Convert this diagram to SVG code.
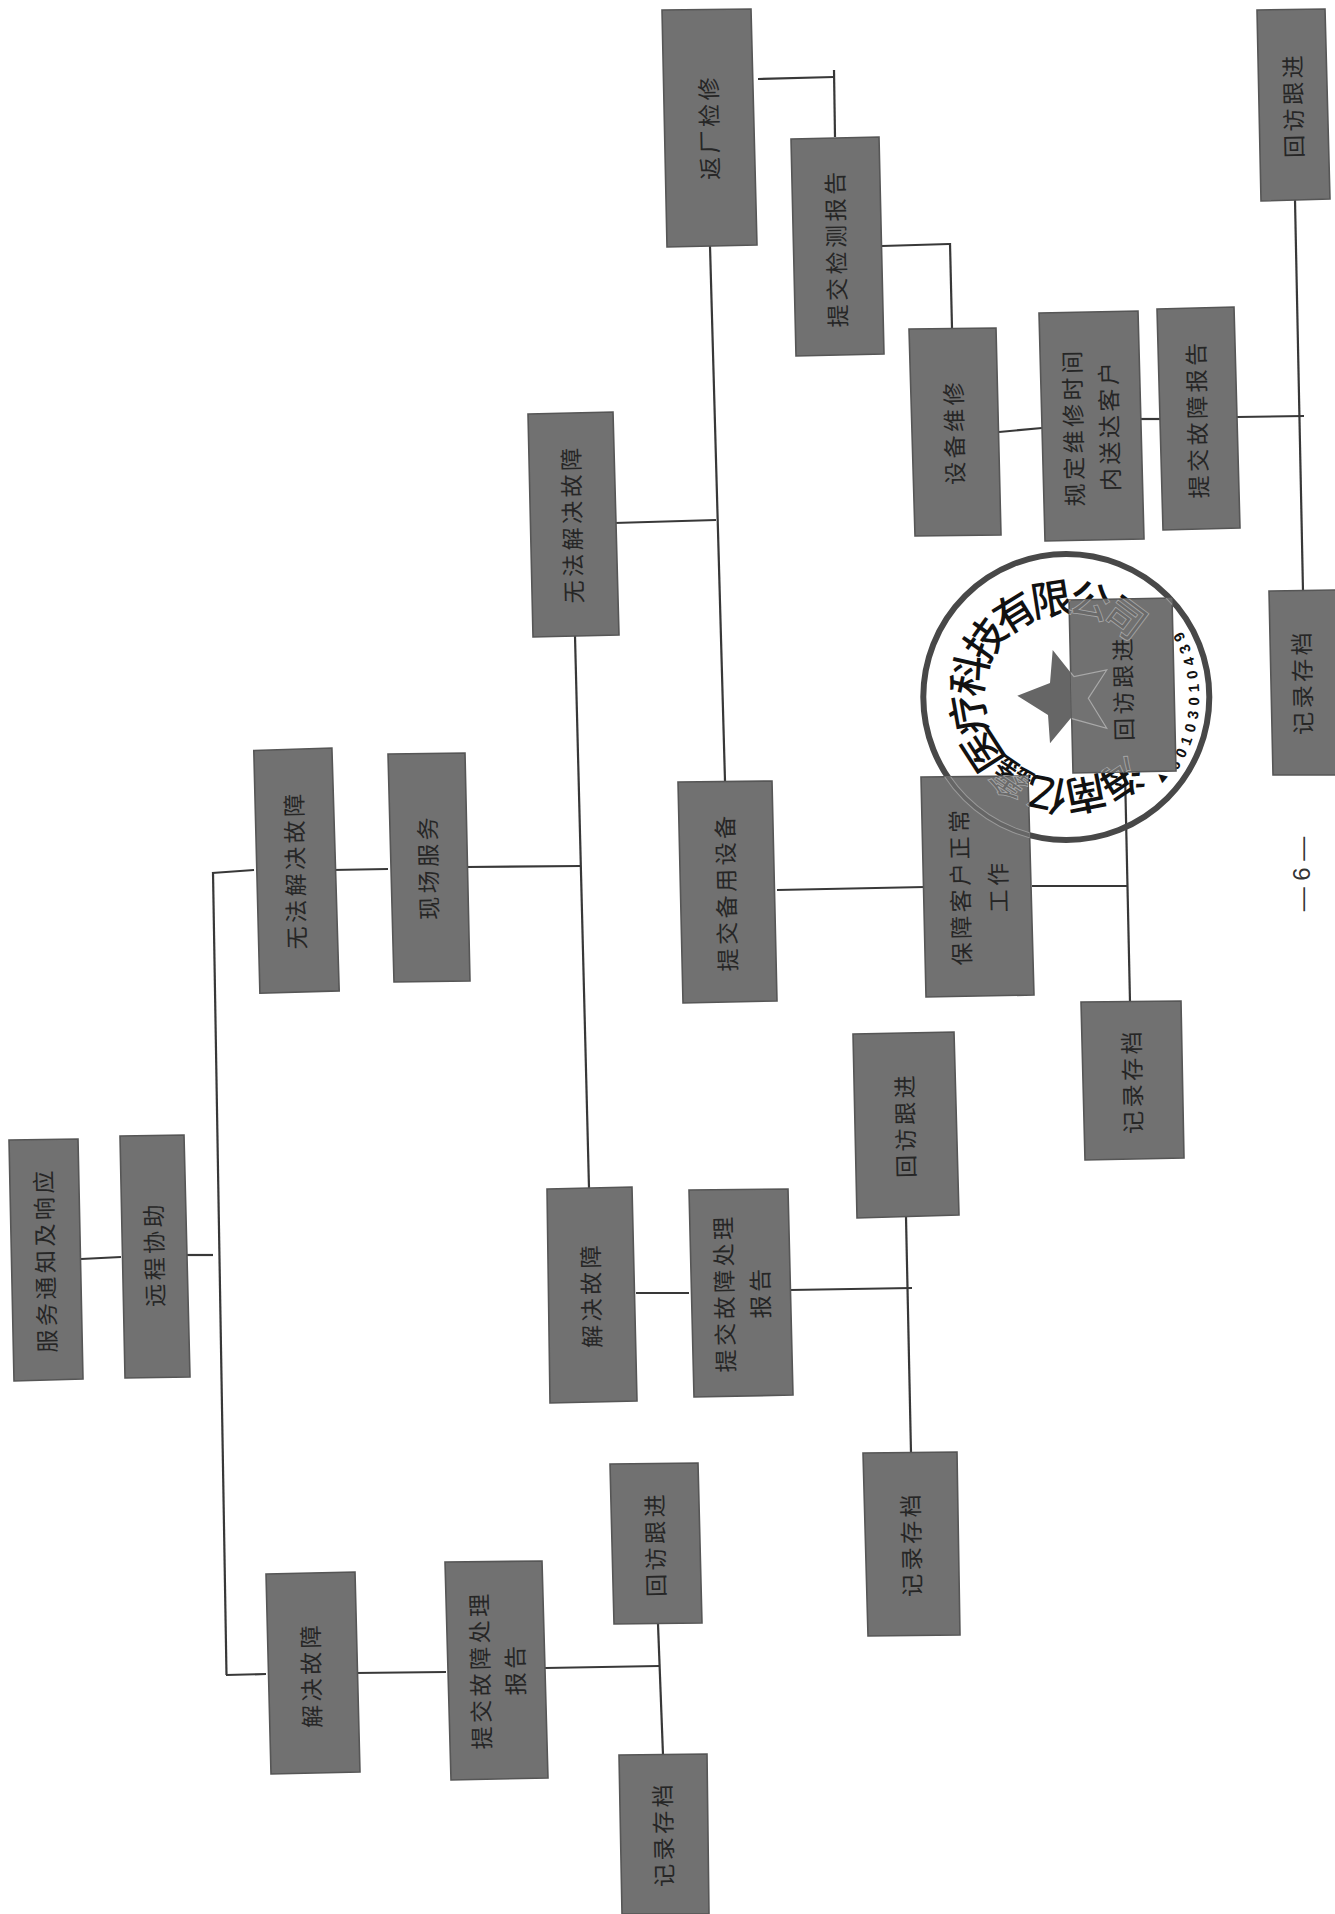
<svg xmlns="http://www.w3.org/2000/svg" xmlns:xlink="http://www.w3.org/1999/xlink" width="1335" height="1914" viewBox="0 0 1335 1914">
<style>
.b{fill:#717171;stroke:#565656;stroke-width:1.6}
.t{font-family:"Noto Sans CJK SC","Liberation Sans",sans-serif;font-size:23px;letter-spacing:3.5px;fill:#262626;text-anchor:middle}
.l{stroke:#383838;stroke-width:2.2;fill:none}
.c{font-family:"Noto Sans CJK SC",sans-serif;font-weight:500;font-size:41px;text-anchor:middle}
.d{font-family:"Liberation Sans",sans-serif;font-weight:700;font-size:15px;text-anchor:middle;fill:#111}
.p{font-family:"Liberation Sans",sans-serif;font-size:24px;fill:#333;text-anchor:middle}
</style>
<defs>
<g id="stampChars">
<text class="c" transform="translate(1066.3,697) rotate(146) translate(0,-84)">海</text>
<text class="c" transform="translate(1066.3,697) rotate(168.8) translate(0,-84)">南</text>
<text class="c" transform="translate(1066.3,697) rotate(191.6) translate(0,-84)">亿</text>
<text class="c" transform="translate(1066.3,697) rotate(214.4) translate(0,-84)">鑫</text>
<text class="c" transform="translate(1066.3,697) rotate(237.2) translate(0,-84)">医</text>
<text class="c" transform="translate(1066.3,697) rotate(260) translate(0,-84)">疗</text>
<text class="c" transform="translate(1066.3,697) rotate(282.8) translate(0,-84)">科</text>
<text class="c" transform="translate(1066.3,697) rotate(305.6) translate(0,-84)">技</text>
<text class="c" transform="translate(1066.3,697) rotate(328.4) translate(0,-84)">有</text>
<text class="c" transform="translate(1066.3,697) rotate(351.2) translate(0,-84)">限</text>
<text class="c" transform="translate(1066.3,697) rotate(14) translate(0,-84)">公</text>
<text class="c" transform="translate(1066.3,697) rotate(36.8) translate(0,-84)">司</text>
</g>
<polygon id="star" points="1052.7,650 1074,676.7 1106.7,670 1088.3,698.3 1106.7,728.3 1070.7,718.3 1050,743.3 1048,715 1017.3,695.7 1050,683"/>
<clipPath id="stampBoxes">
<polygon points="1069,600 1172,598 1176,771 1073,773"/>
<polygon points="921,777 1028,776 1034,995 926,997"/>
</clipPath>
</defs>
<rect width="1335" height="1914" fill="#ffffff"/>
<g id="connectors">
<path class="l" d="M81 1259L121 1257"/>
<path class="l" d="M187 1255L213 1255"/>
<path class="l" d="M213 872L226.500 1675"/>
<path class="l" d="M212 873L254 870"/>
<path class="l" d="M226 1675L266 1674"/>
<path class="l" d="M332 870L388 869"/>
<path class="l" d="M466 867L581 866"/>
<path class="l" d="M575 636L589 1188"/>
<path class="l" d="M614 523L716 520"/>
<path class="l" d="M710 246L725 781"/>
<path class="l" d="M777 890L925 887"/>
<path class="l" d="M1032 886L1127 886"/>
<path class="l" d="M1125 772L1130 1002"/>
<path class="l" d="M758 79L834 77"/>
<path class="l" d="M834 70L835 137"/>
<path class="l" d="M882 246L949 244"/>
<path class="l" d="M950 243L952 328"/>
<path class="l" d="M999 432L1042 428"/>
<path class="l" d="M1141 419L1160 419"/>
<path class="l" d="M1237 417L1304 416"/>
<path class="l" d="M1295 200L1303 591"/>
<path class="l" d="M636 1293L689 1293"/>
<path class="l" d="M790 1290L912 1288"/>
<path class="l" d="M906 1217L911 1453"/>
<path class="l" d="M355 1673L446 1672"/>
<path class="l" d="M545 1668L659 1666"/>
<path class="l" d="M658 1624L663 1755"/>
</g>
<g id="stamp">
<circle cx="1066.300" cy="697" r="143" fill="none" stroke="#484848" stroke-width="6"/>
<use href="#star" fill="#666666"/>
<use href="#stampChars" fill="#111111"/>
<g id="stampNumber">
<text class="d" transform="translate(1066.300,697) rotate(40) translate(124,0) rotate(-90)" dy="5">▲</text>
<text class="d" transform="translate(1066.300,697) rotate(32) translate(128,0) rotate(-90)" dy="5">6</text>
<text class="d" transform="translate(1066.300,697) rotate(26) translate(128,0) rotate(-90)" dy="5">0</text>
<text class="d" transform="translate(1066.300,697) rotate(20) translate(128,0) rotate(-90)" dy="5">1</text>
<text class="d" transform="translate(1066.300,697) rotate(14) translate(128,0) rotate(-90)" dy="5">0</text>
<text class="d" transform="translate(1066.300,697) rotate(8) translate(128,0) rotate(-90)" dy="5">3</text>
<text class="d" transform="translate(1066.300,697) rotate(2) translate(128,0) rotate(-90)" dy="5">0</text>
<text class="d" transform="translate(1066.300,697) rotate(-4) translate(128,0) rotate(-90)" dy="5">1</text>
<text class="d" transform="translate(1066.300,697) rotate(-10) translate(128,0) rotate(-90)" dy="5">0</text>
<text class="d" transform="translate(1066.300,697) rotate(-16) translate(128,0) rotate(-90)" dy="5">4</text>
<text class="d" transform="translate(1066.300,697) rotate(-22) translate(128,0) rotate(-90)" dy="5">3</text>
<text class="d" transform="translate(1066.300,697) rotate(-28) translate(128,0) rotate(-90)" dy="5">9</text>
</g>
</g>
<g id="n1"><polygon class="b" points="9,1140 78,1139 83,1379 14,1381"/><text class="t" transform="translate(46,1260) rotate(-91.200)" dy="8">服务通知及响应</text></g>
<g id="n2"><polygon class="b" points="120,1136 184,1135 190,1377 125,1378"/><text class="t" transform="translate(155,1254) rotate(-91.200)" dy="8">远程协助</text></g>
<g id="n3"><polygon class="b" points="253.800,750.500 331.900,748 339.200,990.900 259.900,993.300"/><text class="t" transform="translate(296,870) rotate(-91.200)" dy="8">无法解决故障</text></g>
<g id="n4"><polygon class="b" points="388,754 465,753 470,981 394,982"/><text class="t" transform="translate(429,867) rotate(-91.200)" dy="8">现场服务</text></g>
<g id="n5"><polygon class="b" points="266,1574 355,1572 360,1772 271,1774"/><text class="t" transform="translate(312,1675) rotate(-91.200)" dy="8">解决故障</text></g>
<g id="n6"><polygon class="b" points="445,1562 542,1561 548,1778 451,1780"/><text class="t" transform="translate(481,1670) rotate(-91.200)" dy="8">提交故障处理</text><text class="t" transform="translate(516,1669) rotate(-91.200)" dy="8">报告</text></g>
<g id="n7"><polygon class="b" points="610,1464 698,1463 702,1623 614,1624"/><text class="t" transform="translate(656,1544) rotate(-91.200)" dy="8">回访跟进</text></g>
<g id="n8"><polygon class="b" points="619,1755 707,1754 709,1914 622,1914"/><text class="t" transform="translate(664,1834) rotate(-91.200)" dy="8">记录存档</text></g>
<g id="n9"><polygon class="b" points="547,1189 632,1187 637,1401 550,1403"/><text class="t" transform="translate(592,1295) rotate(-91.200)" dy="8">解决故障</text></g>
<g id="n10"><polygon class="b" points="689,1190 788,1189 793,1395 694,1397"/><text class="t" transform="translate(725,1293) rotate(-91.200)" dy="8">提交故障处理</text><text class="t" transform="translate(761,1292) rotate(-91.200)" dy="8">报告</text></g>
<g id="n11"><polygon class="b" points="853,1034 954,1032 959,1215 857,1218"/><text class="t" transform="translate(906,1125) rotate(-91.200)" dy="8">回访跟进</text></g>
<g id="n12"><polygon class="b" points="863,1453 957,1452 960,1635 868,1636"/><text class="t" transform="translate(912,1544) rotate(-91.200)" dy="8">记录存档</text></g>
<g id="n13"><polygon class="b" points="528,414 613,412 619,635 533,637"/><text class="t" transform="translate(573,524) rotate(-91.200)" dy="8">无法解决故障</text></g>
<g id="n14"><polygon class="b" points="662,10 751,9 757,245 667,247"/><text class="t" transform="translate(710,127) rotate(-91.200)" dy="8">返厂检修</text></g>
<g id="n15"><polygon class="b" points="791,139 879,137 884,354 796,356"/><text class="t" transform="translate(837,248) rotate(-91.200)" dy="8">提交检测报告</text></g>
<g id="n16"><polygon class="b" points="909,329 996,328 1001,535 915,536"/><text class="t" transform="translate(955,432) rotate(-91.200)" dy="8">设备维修</text></g>
<g id="n17"><polygon class="b" points="1039,313 1138,311 1144,539 1045,541"/><text class="t" transform="translate(1074,427) rotate(-91.200)" dy="8">规定维修时间</text><text class="t" transform="translate(1110,425) rotate(-91.200)" dy="8">内送达客户</text></g>
<g id="n18"><polygon class="b" points="1157,309 1234,307 1240,528 1163,530"/><text class="t" transform="translate(1198,419) rotate(-91.200)" dy="8">提交故障报告</text></g>
<g id="n19"><polygon class="b" points="1257,10 1325,9 1330,199 1261,201"/><text class="t" transform="translate(1294,105) rotate(-91.200)" dy="8">回访跟进</text></g>
<g id="n20"><polygon class="b" points="1269,591 1336,590 1336,775 1273,775"/><text class="t" transform="translate(1303,682) rotate(-91.200)" dy="8">记录存档</text></g>
<g id="n21"><polygon class="b" points="678,782 772,781 777,1001 683,1003"/><text class="t" transform="translate(727,892) rotate(-91.200)" dy="8">提交备用设备</text></g>
<g id="n22"><polygon class="b" points="921,777 1028,776 1034,995 926,997"/><text class="t" transform="translate(961,886) rotate(-91.200)" dy="8">保障客户正常</text><text class="t" transform="translate(999,886) rotate(-91.200)" dy="8">工作</text></g>
<g id="n23"><polygon class="b" points="1081,1002 1181,1001 1184,1158 1085,1160"/><text class="t" transform="translate(1133,1081) rotate(-91.200)" dy="8">记录存档</text></g>
<g id="n24"><polygon class="b" points="1069,600 1172,598 1176,771 1073,773"/><text class="t" transform="translate(1124,688) rotate(-91.200)" dy="8">回访跟进</text></g>
<g id="stampOverlay" clip-path="url(#stampBoxes)">
<circle cx="1066.300" cy="697" r="143" fill="none" stroke="#999" stroke-width="6"/>
<circle cx="1066.300" cy="697" r="143" fill="none" stroke="#666" stroke-width="4"/>
<use href="#star" fill="#727272" stroke="#a8a8a8" stroke-width="1.200"/>
<use href="#stampChars" fill="#6a6a6a" stroke="#a8a8a8" stroke-width="0.800"/>
</g>
<text id="pageNumber" class="p" transform="translate(1302,874) rotate(-90)" dy="8">— 6 —</text>
</svg>
